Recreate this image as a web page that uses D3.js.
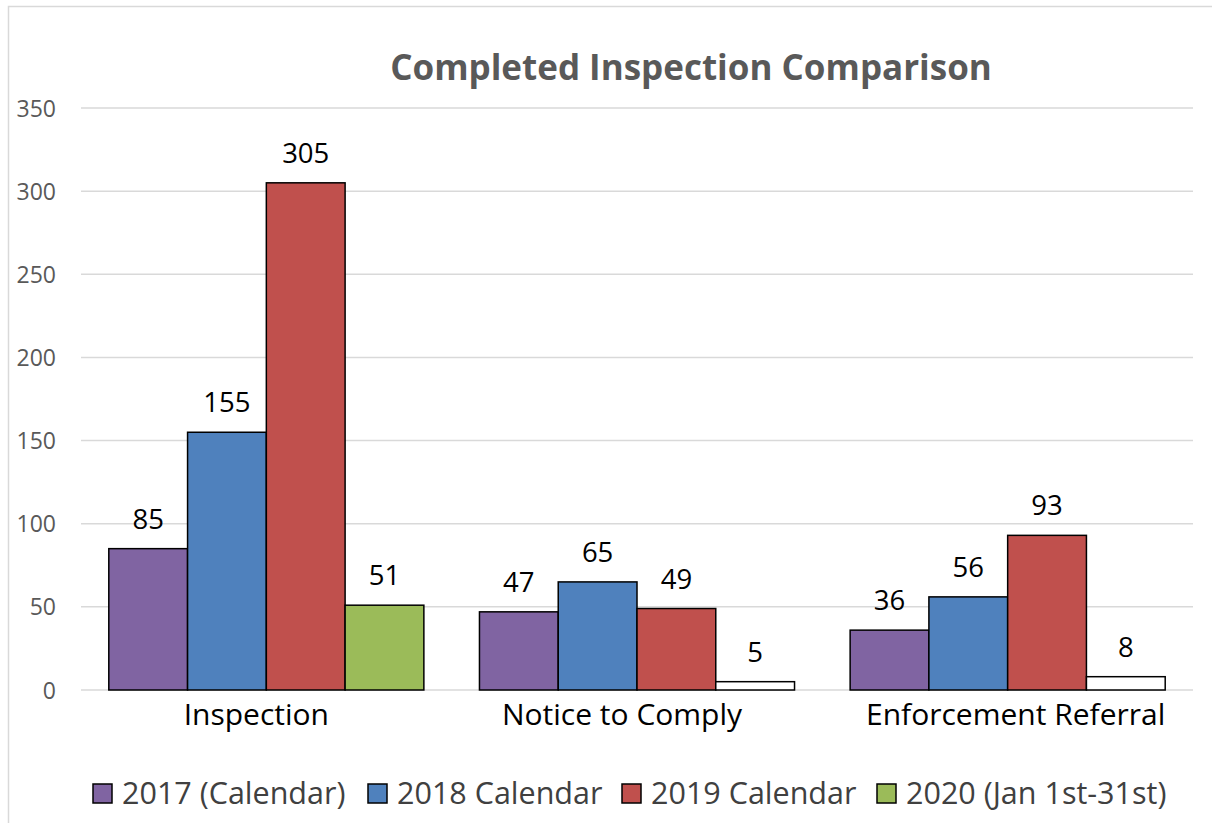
<!DOCTYPE html>
<html>
<head>
<meta charset="utf-8">
<script src="https://d3js.org/d3.v7.min.js"></script>
<style>
  body { margin: 0; background: #fff; }
  svg text { font-family: "Open Sans", Lato, sans-serif; }
</style>
</head>
<body>
<svg id="chart" width="1212" height="823"></svg>
<script>
const categories = ["Inspection", "Notice to Comply", "Enforcement Referral"];
const seriesNames = ["2017 (Calendar)", "2018 Calendar", "2019 Calendar", "2020 (Jan 1st-31st)"];
const v2017 = [85, 47, 36];
const v2018 = [155, 65, 56];
const v2019 = [305, 49, 93];
const v2020 = [51, 5, 8];
const yTicks = [0, 50, 100, 150, 200, 250, 300, 350];

const colors = ["#8064A2", "#4F81BD", "#C0504D", "#9BBB59"];
const allValues = [v2017, v2018, v2019, v2020];

const width = 1212, height = 823;
const margin = {top: 108, right: 19, bottom: 133, left: 81};

const svg = d3.select("#chart");

// chart border
svg.append("rect")
  .attr("x", 8.5).attr("y", 6.5)
  .attr("width", width).attr("height", height)
  .attr("fill", "none").attr("stroke", "#d9d9d9").attr("stroke-width", 1.5);

const x0 = d3.scaleBand(categories, [margin.left, width - margin.right])
  .paddingInner(0.15).paddingOuter(0.075);
const x1 = d3.scaleBand(d3.range(seriesNames.length), [0, x0.bandwidth()]);
const y = d3.scaleLinear([0, 350], [height - margin.bottom, margin.top]);

// gridlines
svg.append("g")
  .selectAll("line")
  .data(yTicks)
  .join("line")
    .attr("x1", margin.left).attr("x2", width - margin.right)
    .attr("y1", d => y(d)).attr("y2", d => y(d))
    .attr("stroke", "#d9d9d9").attr("stroke-width", 1.5);

// y axis labels
const yAxis = g => g
  .attr("transform", `translate(${margin.left - 25},0)`)
  .call(d3.axisLeft(y).tickValues(yTicks).tickSize(0).tickPadding(0))
  .call(g => g.select(".domain").remove())
  .call(g => g.selectAll("text")
    .attr("fill", "#595959")
    .style("font-size", "23px")
    .attr("dy", "0.35em"));
svg.append("g").call(yAxis);

// bars
const rows = categories.map((c, i) => ({cat: c, vals: allValues.map(s => s[i])}));
const groups = svg.append("g")
  .selectAll("g")
  .data(rows)
  .join("g")
    .attr("transform", d => `translate(${x0(d.cat)},0)`);

groups.selectAll("rect")
  .data(d => d.vals.map((v, j) => ({v, j, cat: d.cat})))
  .join("rect")
    .attr("x", d => x1(d.j))
    .attr("y", d => y(d.v))
    .attr("width", x1.bandwidth())
    .attr("height", d => y(0) - y(d.v))
    .attr("fill", d => (d.j === 3 && d.cat !== "Inspection") ? "#ffffff" : colors[d.j])
    .attr("stroke", "#000").attr("stroke-width", 1.5);

groups.selectAll("text")
  .data(d => d.vals.map((v, j) => ({v, j})))
  .join("text")
    .attr("x", d => x1(d.j) + x1.bandwidth() / 2)
    .attr("y", d => y(d.v) - 20)
    .attr("text-anchor", "middle")
    .attr("fill", "#000")
    .style("font-size", "27.5px")
    .text(d => d.v);

// category labels (the original sits them slightly off-centre)
const labelNudge = [-10, -15, 8];
svg.append("g")
  .selectAll("text")
  .data(categories)
  .join("text")
    .attr("x", (d, i) => x0(d) + x0.bandwidth() / 2 + labelNudge[i])
    .attr("y", 725)
    .attr("text-anchor", "middle")
    .attr("fill", "#000")
    .style("font-size", "30px")
    .text(d => d);

// title
svg.append("text")
  .attr("x", 691).attr("y", 80)
  .attr("text-anchor", "middle")
  .attr("fill", "#595959")
  .style("font-size", "35px").style("font-weight", "bold")
  .text("Completed Inspection Comparison");

// legend
const legendX = [93, 368, 622, 877];
const legend = svg.append("g")
  .selectAll("g")
  .data(seriesNames)
  .join("g")
    .attr("transform", (d, i) => `translate(${legendX[i]},784)`);
legend.append("rect")
  .attr("width", 19).attr("height", 19)
  .attr("fill", (d, i) => colors[i])
  .attr("stroke", "#000").attr("stroke-width", 1.5);
legend.append("text")
  .attr("x", 29).attr("y", 20)
  .attr("fill", "#404040")
  .style("font-size", "30.5px")
  .text(d => d);
</script>
</body>
</html>
